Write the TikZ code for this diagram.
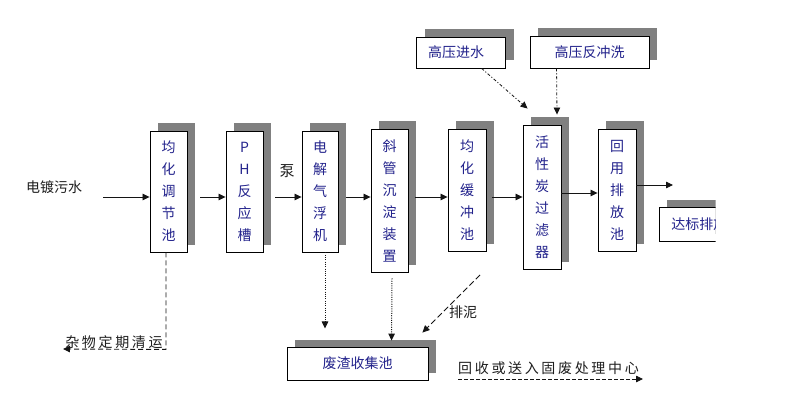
\documentclass[tikz,border=0pt]{standalone}
\usepackage{fontspec}
\newfontfamily\cjk{Noto Sans CJK SC}
\newfontfamily\cjkwide[LetterSpace=19]{Noto Sans CJK SC}
\usetikzlibrary{arrows.meta,shadows,calc}
\definecolor{boxtext}{RGB}{35,35,140}
\definecolor{shadowgray}{RGB}{128,128,128}
\definecolor{linecol}{RGB}{20,20,20}
\definecolor{labelcol}{RGB}{30,30,30}
\begin{document}
\begin{tikzpicture}[x=1pt,y=-1pt,
  procbox/.style={draw=black, line width=0.9pt, fill=white, inner sep=0pt, align=center,
    text=boxtext, font=\cjk\fontsize{14}{22}\selectfont,
    drop shadow={shadow xshift=8pt, shadow yshift=7.5pt, fill=shadowgray, opacity=1}},
  lbl/.style={inner sep=0pt, text=labelcol, font=\cjk\fontsize{14}{16}\selectfont},
  lblwide/.style={inner sep=0pt, text=labelcol, font=\cjkwide\fontsize{14}{16}\selectfont},
  arr/.style={draw=linecol, line width=0.8pt, -{Triangle[length=7pt,width=6.5pt]}},
  dashdotl/.style={dash pattern=on 3pt off 2pt on 1pt off 2pt},
  dashl/.style={line width=0.9pt, dash pattern=on 5pt off 3pt},
  dotl/.style={line width=1pt, dash pattern=on 1pt off 1.3pt}
]
\useasboundingbox (0,0) rectangle (800,401);
\fill[white] (0,0) rectangle (800,401);

% main process boxes
\node[procbox, minimum width=37pt, minimum height=121pt] (b1) at (168.5,191.5) {均\\化\\调\\节\\池};
\node[procbox, minimum width=37pt, minimum height=121pt] (b2) at (244.5,191.5) {P\\H\\反\\应\\槽};
\node[procbox, minimum width=36pt, minimum height=121pt] (b3) at (320,191.5) {电\\解\\气\\浮\\机};
\node[procbox, minimum width=37pt, minimum height=143pt] (b4) at (389.5,200.5) {斜\\管\\沉\\淀\\装\\置};
\node[procbox, minimum width=38pt, minimum height=122pt] (b5) at (467,190) {均\\化\\缓\\冲\\池};
\node[procbox, minimum width=38pt, minimum height=144pt] (b6) at (542,197) {活\\性\\炭\\过\\滤\\器};
\node[procbox, minimum width=38pt, minimum height=122pt] (b7) at (617,190) {回\\用\\排\\放\\池};
\begin{scope}
  \clip (0,0) rectangle (715.5,401);
  \node[procbox, minimum width=80pt, minimum height=34pt, anchor=west] (b8) at (659,224) {达标排放};
\end{scope}

% top boxes
\node[procbox, minimum width=89pt, minimum height=31pt] (gy) at (461,52.5) {高压进水\hspace{10pt}};
\node[procbox, minimum width=119pt, minimum height=32pt] (gf) at (589.5,52) {高压反冲洗};

% bottom box
\node[procbox, minimum width=141pt, minimum height=33pt] (fz) at (357.5,363.5) {废渣收集池};

% labels
\node[lbl] (tin) at (54,187) {电镀污水};
\node[lbl, font=\cjk\fontsize{15}{16}\selectfont] (pump) at (287,171) {泵};
\node[lbl] (mud) at (463,312) {排泥};
\node[lblwide] (junk) at (114,342) {杂物定期清运};
\node[lblwide, anchor=west] (recyc) at (458,368) {回收或送入固废处理中心};

% main flow
\coordinate (ain) at (103,197);
\coordinate (out) at (673,185);
\draw[arr] (ain) -- (ain -| b1.west);
\draw[arr] ($(b1.east |- ain)+(13,0)$) -- (b2.west |- ain);
\draw[arr] ($(b2.east |- ain)+(12,0)$) -- (b3.west |- ain);
\draw[arr] ($(b3.east |- ain)+(8,0)$) -- (b4.west |- ain);
\draw[arr] ($(b4.east |- ain)+(7,0)$) -- (b5.west |- ain);
\draw[arr] ($(b5.east |- ain)+(6,0)$) -- (b6.west |- ain);
\draw[arr] ($(b6.east)+(0,-4)$) -- ($(b7.west)+(0,3)$);
\draw[arr] (out -| b7.east) -- (out);

% high pressure lines
\draw[arr, dashdotl] ($(gy.south west)!0.73!(gy.south east)$) -- ($(b6.north west)+(5,-16)$);
\draw[arr, dashdotl] ($(gf.south west)+(27,0)$) -- ($(b6.north)+(15,-10)$);

% bottom lines
\coordinate (c1) at ($(b1.south)+(-2.5,97)$);
\coordinate (c1end) at (63,349);
\draw[arr, dashl] ($(b1.south)+(-2.5,0)$) -- (c1) -- (c1end);
\draw[arr, dotl] ($(b3.south)+(5,0)$) -- ($(b3.south)+(5,76)$);
\draw[arr, dotl] ($(b4.south)+(2.5,6)$) -- ($(fz.north west)+(105,-6)$);
\coordinate (mudstart) at (480,275);
\draw[arr, dash pattern=on 6pt off 3pt] (mudstart) -- ($(fz.north east)+(-6,-14)$);
\draw[arr, dash pattern=on 4pt off 2pt] ($(recyc.west)+(0,11)$) -- ($(recyc.east)+(4,11)$);
\end{tikzpicture}
\end{document}
